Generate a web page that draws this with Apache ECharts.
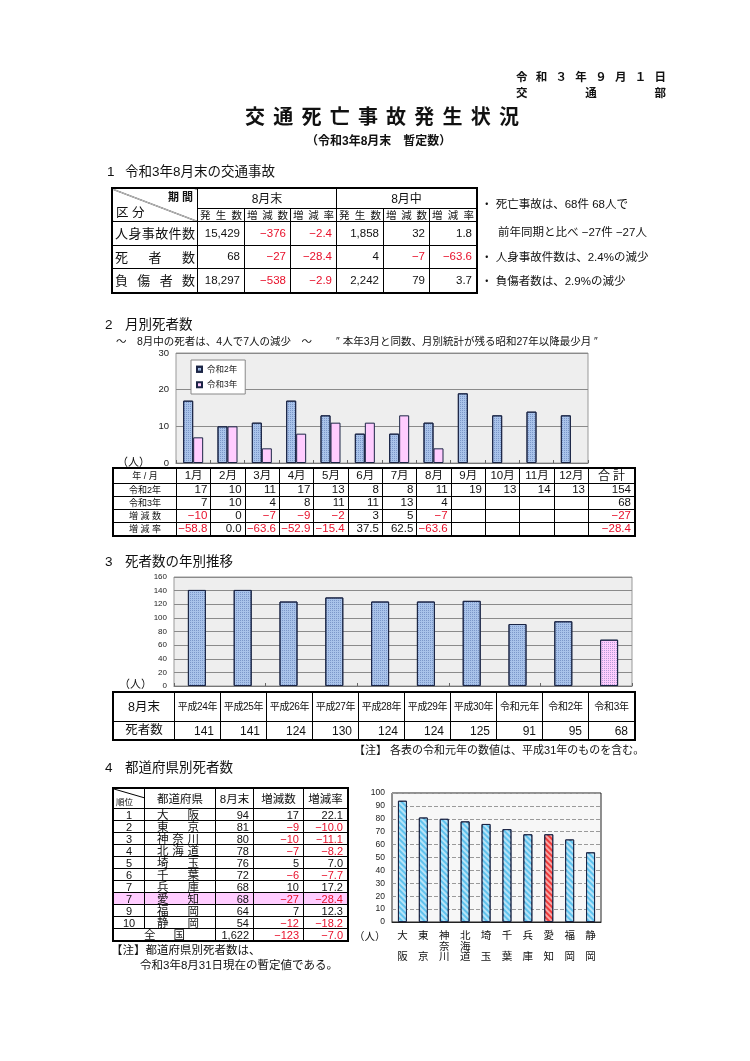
<!DOCTYPE html>
<html><head><meta charset="utf-8">
<script src="https://cdn.jsdelivr.net/npm/echarts@6/dist/echarts.min.js"></script>
<style>
html,body{margin:0;padding:0;background:#fff;}
body{width:750px;height:1061px;position:relative;overflow:hidden;font-family:"Liberation Sans","Noto Sans CJK JP",sans-serif;color:#111;}
#chart{position:absolute;left:0;top:0;width:750px;height:1061px;}
.t{position:absolute;white-space:pre;line-height:1;}
.sp{display:flex;justify-content:space-between;align-items:center;}
table{position:absolute;border-collapse:collapse;table-layout:fixed;background:#fff;}
td{border:1px solid #000;padding:0;overflow:hidden;white-space:nowrap;line-height:1;}
.r{text-align:right;padding-right:4px;}
.c{text-align:center;}
.neg{color:#e8102a;}
.outer{outline:1.5px solid #000;outline-offset:-0.5px;}
.t4 td{line-height:10px;height:11px;}
.t4 .sp{height:10px;}
.t4 .sp span{line-height:10px;}
</style></head><body>
<div id="chart"></div>
<div id="ov"></div>
<script>
// ---------- DATA ----------
const t1Rows = ['人身事故件数','死者数','負傷者数'];
const t1Groups = ['8月末','8月中'];
const t1SubHeads = ['発生数','増減数','増減率'];
const t1EndCount = [15429, 68, 18297];
const t1EndDiff = [-376, -27, -538];
const t1EndRate = [-2.4, -28.4, -2.9];
const t1MonCount = [1858, 4, 2242];
const t1MonDiff = [32, -7, 79];
const t1MonRate = [1.8, -63.6, 3.7];

const months = ['1月','2月','3月','4月','5月','6月','7月','8月','9月','10月','11月','12月'];
const seriesNames = ['令和2年','令和3年'];
const r2Monthly = [17,10,11,17,13,8,8,11,19,13,14,13];
const r3Monthly = [7,10,4,8,11,11,13,4];
const monthlyDiff = [-10,0,-7,-9,-2,3,5,-7];
const monthlyRate = [-58.8,0.0,-63.6,-52.9,-15.4,37.5,62.5,-63.6];
const monthlyTotals = [154, 68, -27, -28.4];

const yearLabels = ['平成24年','平成25年','平成26年','平成27年','平成28年','平成29年','平成30年','令和元年','令和2年','令和3年'];
const yearDeaths = [141,141,124,130,124,124,125,91,95,68];

const prefRanks = [1,2,3,4,5,6,7,7,9,10];
const prefNames = ['大阪','東京','神奈川','北海道','埼玉','千葉','兵庫','愛知','福岡','静岡'];
const prefDeaths = [94,81,80,78,76,72,68,68,64,54];
const prefDiff = [17,-9,-10,-7,5,-6,10,-27,7,-12];
const prefRate = [22.1,-10.0,-11.1,-8.2,7.0,-7.7,17.2,-28.4,12.3,-18.2];
const nationalRow = ['全国', 1622, -123, -7.0];
const highlightPref = '愛知';

// ---------- HELPERS ----------
const MINUS = '\u2212';
const fInt = v => (v < 0 ? MINUS : '') + Math.abs(v).toLocaleString('en-US');
const fRate = v => (v < 0 ? MINUS : '') + Math.abs(v).toFixed(1);
const negCls = v => (v < 0 ? ' neg' : '');
const spread = (s, pad) => '<div class="sp" style="padding:' + pad + '">' + s.split('').map(ch => '<span>' + ch + '</span>').join('') + '</div>';
const ov = document.getElementById('ov');
function txt(s, left, cy, size, extra) {
  const d = document.createElement('div');
  d.className = 't';
  d.style.left = left + 'px';
  d.style.top = (cy - size / 2) + 'px';
  d.style.fontSize = size + 'px';
  if (extra) d.style.cssText += extra;
  d.innerHTML = s;
  ov.appendChild(d);
  return d;
}
function colgroup(ws) { return '<colgroup>' + ws.map(w => '<col style="width:' + w + 'px">').join('') + '</colgroup>'; }
function addTable(html, left, top, width) {
  const wrap = document.createElement('div');
  wrap.innerHTML = html;
  const t = wrap.firstChild;
  t.style.left = left + 'px'; t.style.top = top + 'px'; t.style.width = width + 'px';
  ov.appendChild(t);
}

// ---------- HEADER TEXT ----------
txt(spread('令和３年９月１日', '0'), 516, 78, 11.5, 'width:150px;font-weight:bold;');
txt(spread('交通部', '0'), 516, 94, 11.5, 'width:150px;font-weight:bold;');
txt(spread('交通死亡事故発生状況', '0'), 245, 117, 20, 'width:274px;font-weight:bold;');
txt('（令和3年8月末　暫定数）', 306, 141, 12, 'font-weight:bold;');
txt('1', 107, 172, 13.5); txt('令和3年8月末の交通事故', 125, 172, 13.5);

// ---------- TABLE 1 ----------
(function(){
  const diag = 'background:linear-gradient(to top right, transparent calc(50% - 0.6px), #000 50%, transparent calc(50% + 0.6px));';
  let h = '<table class="outer" style="font-size:11.5px">' + colgroup([85,47,46,46,47,46,47]);
  h += '<tr style="height:20px"><td rowspan="2" style="position:relative;' + diag + '">' +
       '<span style="position:absolute;right:4px;top:3px;font-size:11px;font-weight:bold">期 間</span>' +
       '<span style="position:absolute;left:3px;bottom:2px;font-size:12.5px">区 分</span></td>';
  t1Groups.forEach(g => { h += '<td colspan="3" class="c" style="font-size:12px">' + g + '</td>'; });
  h += '</tr><tr style="height:13px">';
  t1Groups.forEach(() => t1SubHeads.forEach(s => { h += '<td style="font-size:10.5px">' + spread(s, '0 2px') + '</td>'; }));
  h += '</tr>';
  const hs = [24, 23, 24];
  t1Rows.forEach((lab, i) => {
    h += '<tr style="height:' + hs[i] + 'px"><td style="font-size:13px">' + spread(lab, '0 2px') + '</td>';
    const cells = [[t1EndCount[i], fInt], [t1EndDiff[i], fInt], [t1EndRate[i], fRate], [t1MonCount[i], fInt], [t1MonDiff[i], fInt], [t1MonRate[i], fRate]];
    cells.forEach(([v, f]) => { h += '<td class="r' + negCls(v) + '">' + f(v) + '</td>'; });
    h += '</tr>';
  });
  h += '</table>';
  addTable(h, 112, 188, 364);
})();
txt('・ 死亡事故は、68件 68人で', 481, 205, 11.5);
txt('前年同期と比べ −27件 −27人', 498, 233, 11.5);
txt('・ 人身事故件数は、2.4%の減少', 481, 258, 11.5);
txt('・ 負傷者数は、2.9%の減少', 481, 282, 11.5);

// ---------- SECTION 2 ----------
txt('2', 105, 325, 13.5); txt('月別死者数', 125, 325, 13.5);
txt('～　8月中の死者は、4人で7人の減少　～', 116, 341, 10.5);
txt('″ 本年3月と同数、月別統計が残る昭和27年以降最少月 ″', 336, 341, 10.5);
txt('（人）', 117, 462, 11);
(function(){
  let h = '<table class="outer" style="font-size:11.5px">' + colgroup([63].concat(months.map(() => 34.33)).concat([46]));
  h += '<tr style="height:15px"><td class="c" style="font-size:9px">年 / 月</td>';
  months.forEach(m => { h += '<td class="c">' + m + '</td>'; });
  h += '<td style="font-size:12px">' + spread('合計', '0 9px') + '</td></tr>';
  const rows = [
    ['令和2年', r2Monthly, fInt, monthlyTotals[0], fInt],
    ['令和3年', r3Monthly, fInt, monthlyTotals[1], fInt],
    ['増 減 数', monthlyDiff, fInt, monthlyTotals[2], fInt],
    ['増 減 率', monthlyRate, fRate, monthlyTotals[3], fRate]
  ];
  rows.forEach(([lab, arr, f, tot, ft]) => {
    h += '<tr style="height:13px"><td class="c" style="font-size:9px">' + lab + '</td>';
    months.forEach((m, i) => {
      const v = arr[i];
      h += (v === undefined) ? '<td></td>' : '<td class="r' + negCls(v) + '" style="padding-right:3px">' + f(v) + '</td>';
    });
    h += '<td class="r' + negCls(tot) + '" style="padding-right:3px">' + ft(tot) + '</td></tr>';
  });
  h += '</table>';
  addTable(h, 113, 468, 521);
})();

// ---------- SECTION 3 ----------
txt('3', 105, 562, 13.5); txt('死者数の年別推移', 125, 562, 13.5);
txt('（人）', 119, 684, 11);
(function(){
  let h = '<table class="outer" style="font-size:12px">' + colgroup([61].concat(yearLabels.map(() => 46)));
  h += '<tr style="height:29px"><td class="c" style="font-size:12.5px">8月末</td>';
  yearLabels.forEach(y => { h += '<td class="c" style="font-size:10px;letter-spacing:-0.3px">' + y + '</td>'; });
  h += '</tr><tr style="height:18px"><td class="c" style="font-size:12.5px">死者数</td>';
  yearDeaths.forEach(v => { h += '<td class="r" style="padding-right:6px">' + fInt(v) + '</td>'; });
  h += '</tr></table>';
  addTable(h, 113, 692, 521);
})();
txt('【注】 各表の令和元年の数値は、平成31年のものを含む。', 354, 750, 11);

// ---------- SECTION 4 ----------
txt('4', 105, 768, 13.5); txt('都道府県別死者数', 125, 768, 13.5);
(function(){
  const diagSvg = '<svg width="31" height="20" style="position:absolute;left:0;top:0"><line x1="0" y1="0" x2="31" y2="9" stroke="#000" stroke-width="1"/></svg>';
  let h = '<table class="outer t4" style="font-size:11px">' + colgroup([31,71,38,50,44]);
  h += '<tr style="height:20px"><td style="position:relative;height:19px">' + diagSvg + '<span style="position:absolute;left:2px;bottom:1px;font-size:8.5px">順位</span></td>';
  ['都道府県','8月末','増減数','増減率'].forEach(s => { h += '<td class="c" style="font-size:11.5px;height:19px;line-height:12px">' + s + '</td>'; });
  h += '</tr>';
  prefNames.forEach((n, i) => {
    const bg = n === highlightPref ? 'background:#ffccff;' : '';
    h += '<tr style="' + bg + '"><td class="c">' + prefRanks[i] + '</td><td style="font-size:11.5px">' + spread(n, '0 16px 0 12px') + '</td>' +
         '<td class="r">' + fInt(prefDeaths[i]) + '</td>' +
         '<td class="r' + negCls(prefDiff[i]) + '">' + fInt(prefDiff[i]) + '</td>' +
         '<td class="r' + negCls(prefRate[i]) + '">' + fRate(prefRate[i]) + '</td></tr>';
  });
  h += '<tr><td colspan="2" style="font-size:11.5px">' + spread(nationalRow[0], '0 30px') + '</td>' +
       '<td class="r">' + fInt(nationalRow[1]) + '</td>' +
       '<td class="r' + negCls(nationalRow[2]) + '">' + fInt(nationalRow[2]) + '</td>' +
       '<td class="r' + negCls(nationalRow[3]) + '">' + fRate(nationalRow[3]) + '</td></tr>';
  h += '</table>';
  addTable(h, 113, 788, 234);
})();
txt('【注】都道府県別死者数は、', 111, 951, 11.5);
txt('令和3年8月31日現在の暫定値である。', 140, 966, 11.5);
txt('（人）', 354, 936, 10.5);

// ---------- CHARTS ----------
const FONT = '"Liberation Sans","Noto Sans CJK JP",sans-serif';
const dots = {symbol:'rect', symbolSize:1, dashArrayX:[1,1], dashArrayY:[1,1], color:'rgba(40,70,140,0.35)'};
const blueStyle = {color:'#a9c3ea', borderColor:'#1b2545', borderWidth:1, decal:dots};
const pinkStyle = {color:'#ffccff', borderColor:'#1b2545', borderWidth:1};
const stripes = {symbol:'rect', symbolSize:1, rotation:Math.PI/4, dashArrayX:[1,0], dashArrayY:[2,2], color:'rgba(255,255,255,0.55)'};
const cyanStyle = {color:'#5fc2ee', borderColor:'#1b2545', borderWidth:1, decal:stripes};
const redStyle = {color:'#f03a3a', borderColor:'#1b2545', borderWidth:1, decal:stripes};

const chart = echarts.init(document.getElementById('chart'), null, {renderer:'canvas'});
const catAxis = (gi, data) => ({
  type:'category', gridIndex:gi, data:data,
  axisLine:{lineStyle:{color:'#777'}},
  axisTick:{show:true, inside:true, length:3, lineStyle:{color:'#666'}},
  axisLabel:{show:false}
});
const valAxis = (gi, max, interval, fs, split) => ({
  type:'value', gridIndex:gi, min:0, max:max, interval:interval,
  axisLine:{show:false}, axisTick:{show:false},
  axisLabel:{fontSize:fs, color:'#222', margin:7, fontFamily:FONT},
  splitLine:{lineStyle:split}
});
chart.setOption({
  animation:false,
  textStyle:{fontFamily:FONT},
  grid:[
    {left:176, top:353, width:412, height:110, show:true, backgroundColor:'#eeeeee', borderColor:'#999', borderWidth:1},
    {left:174, top:577, width:458, height:109, show:true, backgroundColor:'#eeeeee', borderColor:'#999', borderWidth:1},
    {left:392, top:793, width:209, height:129, show:true, backgroundColor:'#f7f7f7', borderColor:'#222', borderWidth:1}
  ],
  legend:{
    data:seriesNames, left:191, top:360, orient:'vertical',
    itemWidth:5, itemHeight:5, itemGap:7, icon:'rect',
    backgroundColor:'#fff', borderColor:'#888', borderWidth:1, padding:[5,8,5,5],
    textStyle:{fontSize:8.5, color:'#222', fontFamily:FONT}
  },
  xAxis:[
    catAxis(0, months),
    catAxis(1, yearLabels),
    {type:'category', gridIndex:2, data:prefNames,
     axisLine:{lineStyle:{color:'#222'}}, axisTick:{show:false},
     axisLabel:{interval:0, fontSize:10.5, lineHeight:10.5, color:'#111', margin:9, fontFamily:FONT,
       formatter:n => n.length === 2 ? n[0] + '\n\n' + n[1] : n.split('').join('\n')}}
  ],
  yAxis:[
    valAxis(0, 30, 10, 9.5, {color:'#8a8a8a'}),
    valAxis(1, 160, 20, 8, {color:'#8a8a8a'}),
    valAxis(2, 100, 10, 8.5, {color:'#9a9a9a', type:'dashed'})
  ],
  series:[
    {name:seriesNames[0], type:'bar', xAxisIndex:0, yAxisIndex:0, data:r2Monthly, barWidth:10, barGap:'0%', itemStyle:blueStyle},
    {name:seriesNames[1], type:'bar', xAxisIndex:0, yAxisIndex:0, data:r3Monthly, barWidth:10, barGap:'0%', itemStyle:pinkStyle},
    {type:'bar', xAxisIndex:1, yAxisIndex:1, barWidth:18, itemStyle:blueStyle,
     data:yearDeaths.map((v, i) => i === yearDeaths.length - 1 ? {value:v, itemStyle:pinkStyle} : v)},
    {type:'bar', xAxisIndex:2, yAxisIndex:2, barWidth:9, itemStyle:cyanStyle,
     data:prefDeaths.map((v, i) => prefNames[i] === highlightPref ? {value:v, itemStyle:redStyle} : v)}
  ]
});
</script>
</body></html>
